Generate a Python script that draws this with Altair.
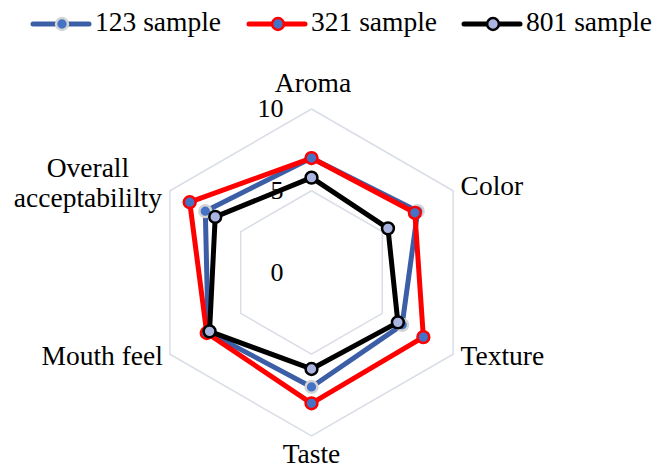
import math
import altair as alt
import pandas as pd

# ---- data ---------------------------------------------------------------
attributes = ["Aroma", "Color", "Texture", "Taste", "Mouth feel", "Overall acceptabililty"]
series_names = ["123 sample", "321 sample", "801 sample"]
values_123 = [7.0, 7.5, 6.4, 7.0, 7.3, 7.5]
values_321 = [7.0, 7.3, 7.9, 8.0, 7.4, 8.6]
values_801 = [5.8, 5.4, 6.1, 5.9, 7.2, 6.8]
ring_levels = [5, 10]
tick_labels = [0, 5, 10]

# ---- layout / style -----------------------------------------------------
W, H = 652, 468
CX, CY = 311.5, 272.5          # centre of the radar, px
S = 16.35                      # px per score unit
FONT = "'Liberation Serif', 'Times New Roman', serif"
FS = 27.5

styles = {
    "123 sample": dict(line="#3b5ea6", fill="#4472c4", stroke="#d4d4d4"),
    "321 sample": dict(line="#ff0000", fill="#4472c4", stroke="#ff0000"),
    "801 sample": dict(line="#000000", fill="#a9b4e0", stroke="#000000"),
}

n = len(attributes)

# long table: one row per (series, attribute), plus a closing row per series
rows = []
for name, vals in zip(series_names, [values_123, values_321, values_801]):
    for i in range(n + 1):
        rows.append(dict(series=name, idx=i % n, ord=i, value=vals[i % n],
                         attribute=attributes[i % n], closing=i == n))
df = pd.DataFrame(rows)

grid_rows = []
for lvl in ring_levels:
    for i in range(n + 1):
        grid_rows.append(dict(ring=lvl, idx=i % n, ord=i, value=lvl))
grid_df = pd.DataFrame(grid_rows)

labels_df = pd.DataFrame(dict(attribute=attributes, idx=list(range(n)), value=[10] * n))
ticks_df = pd.DataFrame(dict(value=tick_labels, label=[str(t) for t in tick_labels]))

xs = alt.Scale(domain=[-CX / S, (W - CX) / S], zero=False, nice=False)
ys = alt.Scale(domain=[-(H - CY) / S, CY / S], zero=False, nice=False)


def polar(chart):
    return chart.transform_calculate(
        ang="PI / 2 - datum.idx * PI / 3"
    ).transform_calculate(
        px="datum.value * cos(datum.ang)",
        py="datum.value * sin(datum.ang)",
    )


def xy():
    return dict(
        x=alt.X("px:Q", scale=xs, axis=None),
        y=alt.Y("py:Q", scale=ys, axis=None),
    )


layers = []

# hexagonal grid rings
layers.append(
    polar(alt.Chart(grid_df)).mark_line(color="#d9dde6", strokeWidth=1.5).encode(
        **xy(), detail="ring:N", order="ord:Q"
    )
)

# tick labels along the vertical axis
layers.append(
    alt.Chart(ticks_df).transform_calculate(px="0", py="datum.value").mark_text(
        font=FONT, fontSize=26, align="right", baseline="middle", dx=-28, color="#000"
    ).encode(**xy(), text="label:N")
)

# series: lines then markers
for name in series_names:
    st = styles[name]
    sub = polar(alt.Chart(df)).transform_filter(alt.datum.series == name)
    layers.append(
        sub.mark_line(color=st["line"], strokeWidth=5, strokeJoin="round").encode(
            **xy(), order="ord:Q"
        )
    )
    layers.append(
        sub.transform_filter("!datum.closing").mark_point(
            shape="circle", filled=True, size=140, fill=st["fill"], stroke=st["stroke"],
            strokeWidth=2.5, opacity=1
        ).encode(**xy())
    )

# category labels around the radar
label_pos = {
    "Aroma": dict(align="center", dx=1.5, dy=-25),
    "Color": dict(align="left", dx=7.5, dy=-4),
    "Texture": dict(align="left", dx=7.5, dy=3),
    "Taste": dict(align="center", dx=0, dy=18.5),
    "Mouth feel": dict(align="right", dx=-7, dy=3),
    "Overall acceptabililty": dict(align="center", dx=-82, dy=-22, lineBreak=" ", lineHeight=30),
}
for att in attributes:
    layers.append(
        polar(alt.Chart(labels_df)).transform_filter(alt.datum.attribute == att).mark_text(
            font=FONT, fontSize=FS, baseline="middle", color="#000", **label_pos[att]
        ).encode(**xy(), text="attribute:N")
    )

# legend across the top
legend_x = {"123 sample": 33, "321 sample": 249, "801 sample": 464}
LEG_Y = 24
for name in series_names:
    st = styles[name]
    x0 = legend_x[name]
    layers.append(
        alt.Chart(pd.DataFrame({"series": [name]})).mark_rule(
            color=st["line"], strokeWidth=5, strokeCap="round"
        ).encode(x=alt.value(x0), x2=alt.value(x0 + 56), y=alt.value(LEG_Y))
    )
    layers.append(
        alt.Chart(pd.DataFrame({"series": [name]})).mark_point(
            shape="circle", filled=True, size=140, fill=st["fill"], stroke=st["stroke"],
            strokeWidth=2.5, opacity=1
        ).encode(x=alt.value(x0 + 29), y=alt.value(LEG_Y))
    )
    layers.append(
        alt.Chart(pd.DataFrame({"series": [name]})).mark_text(
            font=FONT, fontSize=FS, align="left", baseline="middle", color="#000"
        ).encode(x=alt.value(x0 + 62), y=alt.value(LEG_Y - 1), text="series:N")
    )

chart = alt.layer(*layers).properties(
    width=W, height=H, autosize=alt.AutoSizeParams(type="none"), padding=0,
    background="white"
).configure_view(stroke=None)

chart.save("out.html", embed_options={"renderer": "svg", "actions": False})
